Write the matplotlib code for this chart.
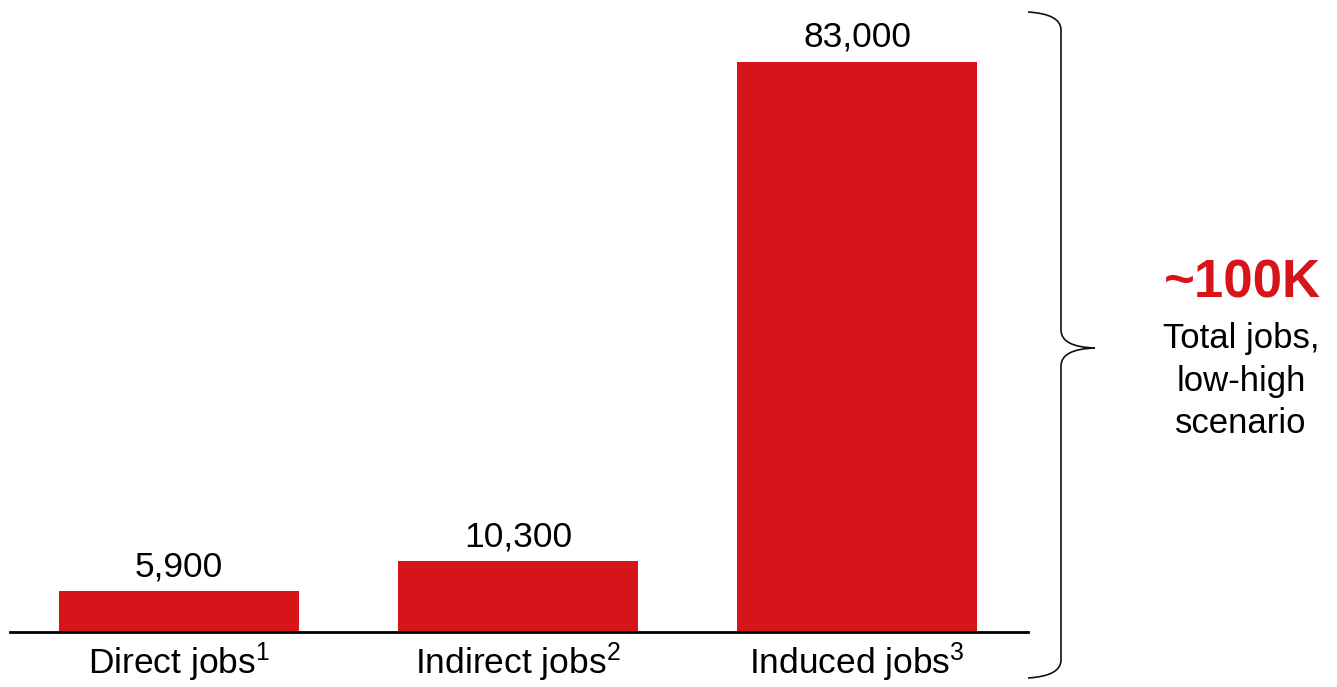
import matplotlib
matplotlib.use('Agg')
import matplotlib.pyplot as plt
from matplotlib.path import Path
from matplotlib.patches import PathPatch
from matplotlib.transforms import Affine2D

categories = ['Direct jobs$^{1}$', 'Indirect jobs$^{2}$', 'Induced jobs$^{3}$']
values = [5900, 10300, 83000]
value_labels = ['5,900', '10,300', '83,000']
total_label = '~100K'
total_text = 'Total jobs,\nlow-high\nscenario'

plt.rcParams['font.family'] = ['Liberation Sans', 'DejaVu Sans']
plt.rcParams['mathtext.fontset'] = 'custom'
plt.rcParams['mathtext.rm'] = 'Liberation Sans'
plt.rcParams['mathtext.default'] = 'rm'

rojo = '#D7141A'
W, H = 1337, 687

fig = plt.figure(figsize=(W / 100, H / 100), dpi=100)
# ejes en pixeles: x 10..1028, y (desde arriba) 10..632
ax = fig.add_axes([10 / W, (H - 632) / H, (1028 - 10) / W, (632 - 10) / H])

x = list(range(len(values)))
ax.bar(x, values, width=0.708, color=rojo)
for xi, v, lab in zip(x, values, value_labels):
    ax.text(xi, v + 1200, lab, ha='center', va='bottom', fontsize=25.5)

ax.set_xlim(-0.4985, 2.504)
ax.set_ylim(0, 90573)
ax.set_xticks(x)
ax.set_xticklabels(categories, fontsize=25.5)
ax.tick_params(axis='x', length=0, pad=6)
ax.set_yticks([])
for s in ['top', 'right', 'left']:
    ax.spines[s].set_visible(False)
ax.spines['bottom'].set_linewidth(2)

# llave a la derecha (coordenadas en pixeles, y desde arriba)
pts = [(1028, 12), (1061, 14), (1061, 30), (1061, 30),
       (1061, 330), (1061, 330), (1061, 347), (1095, 348),
       (1061, 349), (1061, 366), (1061, 366),
       (1061, 660), (1061, 660), (1061, 676), (1028, 678)]
codes = [Path.MOVETO, Path.CURVE3, Path.CURVE3, Path.LINETO,
         Path.LINETO, Path.LINETO, Path.CURVE3, Path.CURVE3,
         Path.CURVE3, Path.CURVE3, Path.LINETO,
         Path.LINETO, Path.LINETO, Path.CURVE3, Path.CURVE3]
trans = Affine2D().scale(1, -1).translate(0, H)
path = Path(pts, codes).transformed(trans)
fig.patches.append(PathPatch(path, fill=False, edgecolor='#111111', lw=1.2,
                             transform=None))

fig.text(1242 / W, 1 - 283 / H, total_label, color=rojo, fontsize=38,
         fontweight='bold', ha='center', va='center')
fig.text(1241 / W, 1 - 381 / H, total_text, fontsize=25, ha='center',
         va='center', linespacing=1.35)

fig.savefig('out.png', dpi=100)
